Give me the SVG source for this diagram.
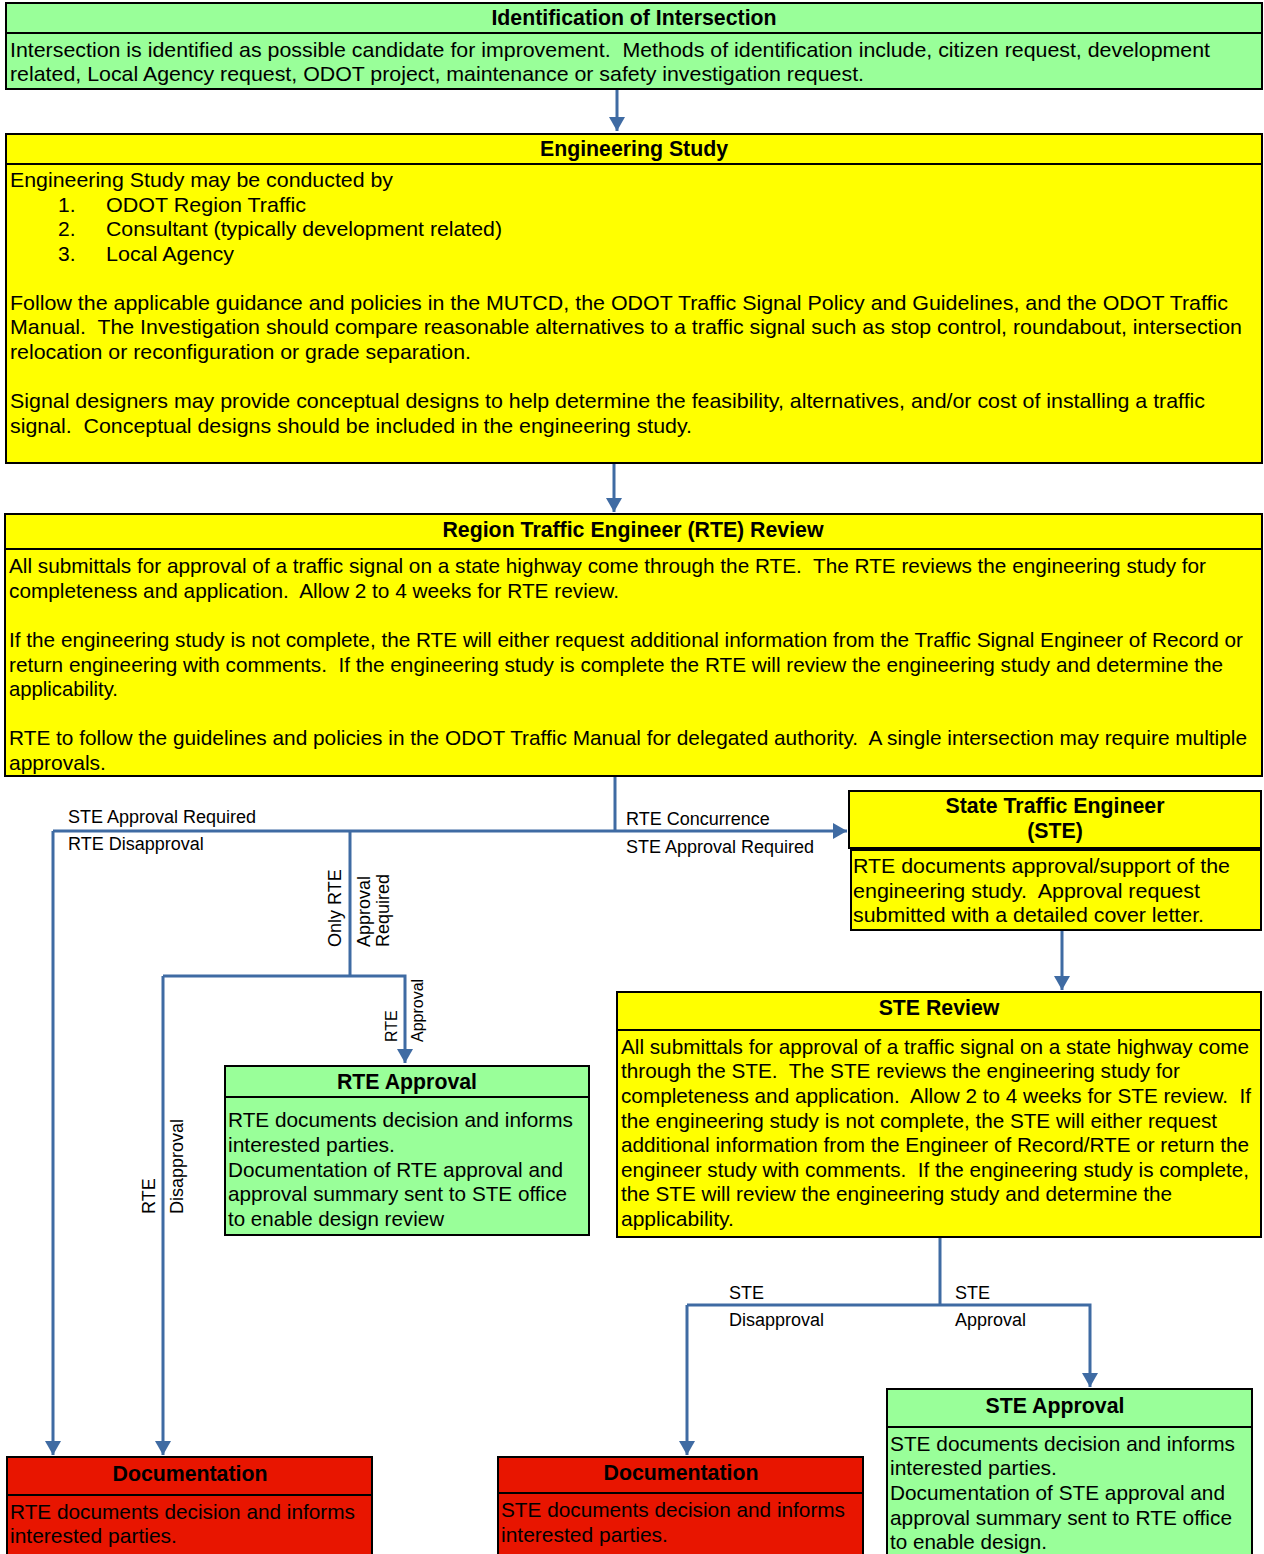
<svg xmlns="http://www.w3.org/2000/svg" width="1264" height="1554" viewBox="0 0 1264 1554">
<defs>
<style>
.box{stroke:#000;stroke-width:2}
.g{fill:#99FF99}.y{fill:#FFFF00}.r{fill:#E81500}
.div{stroke:#000;stroke-width:2}
text{font-family:"Liberation Sans",Arial,sans-serif;fill:#000;white-space:pre}
.t{font-size:21px}
.h{font-size:21.3px;font-weight:bold;text-anchor:middle}
.l{font-size:18px}
.s{font-size:16px}
.c{fill:none;stroke:#3F6BA3;stroke-width:3}
</style>
<marker id="ah" markerUnits="userSpaceOnUse" markerWidth="16" markerHeight="16" viewBox="0 0 14 16" refX="14" refY="8" orient="auto">
<path d="M0,0 L14,8 L0,16 z" fill="#3F6BA3"/>
</marker>
</defs>
<rect width="1264" height="1554" fill="#fff"/>

<g id="connectors">
<path class="c" d="M617,89 V131" marker-end="url(#ah)"/>
<path class="c" d="M614,463 V512" marker-end="url(#ah)"/>
<path class="c" d="M615,776 V831"/>
<path class="c" d="M53,831 H847" marker-end="url(#ah)"/>
<path class="c" d="M53,831 V1455" marker-end="url(#ah)"/>
<path class="c" d="M350,831 V976"/>
<path class="c" d="M163,976 H405 V1063" marker-end="url(#ah)"/>
<path class="c" d="M163,976 V1455" marker-end="url(#ah)"/>
<path class="c" d="M1062,930 V990" marker-end="url(#ah)"/>
<path class="c" d="M940,1237 V1305"/>
<path class="c" d="M687,1305 H1090 V1387" marker-end="url(#ah)"/>
<path class="c" d="M687,1305 V1455" marker-end="url(#ah)"/>
<text class="l" x="68" y="823">STE Approval Required</text>
<text class="l" x="68" y="850">RTE Disapproval</text>
<text class="l" x="626" y="825">RTE Concurrence</text>
<text class="l" x="626" y="853">STE Approval Required</text>
<text class="l" x="341" y="947" transform="rotate(-90 341 947)">Only RTE</text>
<text class="l" x="370" y="947" transform="rotate(-90 370 947)">Approval</text>
<text class="l" x="389" y="947" transform="rotate(-90 389 947)">Required</text>
<text class="s" x="397" y="1042" transform="rotate(-90 397 1042)">RTE</text>
<text class="s" x="423" y="1042" transform="rotate(-90 423 1042)">Approval</text>
<text class="l" x="155" y="1214" transform="rotate(-90 155 1214)">RTE</text>
<text class="l" x="183" y="1214" transform="rotate(-90 183 1214)">Disapproval</text>
<text class="l" x="729" y="1299">STE</text>
<text class="l" x="729" y="1326">Disapproval</text>
<text class="l" x="955" y="1299">STE</text>
<text class="l" x="955" y="1326">Approval</text>
</g>

<g id="identification">
<rect class="box g" x="6" y="3" width="1256" height="86"/>
<line class="div" x1="6" y1="33" x2="1262" y2="33"/>
<text class="h" x="634" y="25">Identification of Intersection</text>
<text class="t" x="10" y="57" textLength="1200" lengthAdjust="spacingAndGlyphs">Intersection is identified as possible candidate for improvement.  Methods of identification include, citizen request, development</text>
<text class="t" x="10" y="81" textLength="854" lengthAdjust="spacingAndGlyphs">related, Local Agency request, ODOT project, maintenance or safety investigation request.</text>
</g>

<g id="engineering-study">
<rect class="box y" x="6" y="134" width="1256" height="329"/>
<line class="div" x1="6" y1="164" x2="1262" y2="164"/>
<text class="h" x="634" y="156">Engineering Study</text>
<text class="t" x="10" y="187" textLength="383" lengthAdjust="spacingAndGlyphs">Engineering Study may be conducted by</text>
<text class="t" x="58" y="212">1.</text><text class="t" x="106" y="212" textLength="200" lengthAdjust="spacingAndGlyphs">ODOT Region Traffic</text>
<text class="t" x="58" y="236">2.</text><text class="t" x="106" y="236" textLength="396" lengthAdjust="spacingAndGlyphs">Consultant (typically development related)</text>
<text class="t" x="58" y="261">3.</text><text class="t" x="106" y="261" textLength="128" lengthAdjust="spacingAndGlyphs">Local Agency</text>
<text class="t" x="10" y="310" textLength="1218" lengthAdjust="spacingAndGlyphs">Follow the applicable guidance and policies in the MUTCD, the ODOT Traffic Signal Policy and Guidelines, and the ODOT Traffic</text>
<text class="t" x="10" y="334" textLength="1232" lengthAdjust="spacingAndGlyphs">Manual.  The Investigation should compare reasonable alternatives to a traffic signal such as stop control, roundabout, intersection</text>
<text class="t" x="10" y="359" textLength="461" lengthAdjust="spacingAndGlyphs">relocation or reconfiguration or grade separation.</text>
<text class="t" x="10" y="408" textLength="1195" lengthAdjust="spacingAndGlyphs">Signal designers may provide conceptual designs to help determine the feasibility, alternatives, and/or cost of installing a traffic</text>
<text class="t" x="10" y="433" textLength="682" lengthAdjust="spacingAndGlyphs">signal.  Conceptual designs should be included in the engineering study.</text>
</g>

<g id="rte-review">
<rect class="box y" x="5" y="514" width="1257" height="262"/>
<line class="div" x1="5" y1="549" x2="1262" y2="549"/>
<text class="h" x="633" y="537">Region Traffic Engineer (RTE) Review</text>
<text class="t" x="9" y="573" textLength="1197" lengthAdjust="spacingAndGlyphs">All submittals for approval of a traffic signal on a state highway come through the RTE.  The RTE reviews the engineering study for</text>
<text class="t" x="9" y="598" textLength="610" lengthAdjust="spacingAndGlyphs">completeness and application.  Allow 2 to 4 weeks for RTE review.</text>
<text class="t" x="9" y="647" textLength="1234" lengthAdjust="spacingAndGlyphs">If the engineering study is not complete, the RTE will either request additional information from the Traffic Signal Engineer of Record or</text>
<text class="t" x="9" y="672" textLength="1214" lengthAdjust="spacingAndGlyphs">return engineering with comments.  If the engineering study is complete the RTE will review the engineering study and determine the</text>
<text class="t" x="9" y="696" textLength="109" lengthAdjust="spacingAndGlyphs">applicability.</text>
<text class="t" x="9" y="745" textLength="1238" lengthAdjust="spacingAndGlyphs">RTE to follow the guidelines and policies in the ODOT Traffic Manual for delegated authority.  A single intersection may require multiple</text>
<text class="t" x="9" y="770">approvals.</text>
</g>

<g id="ste">
<rect class="box y" x="849" y="791" width="412" height="57"/>
<text class="h" x="1055" y="813">State Traffic Engineer</text>
<text class="h" x="1055" y="838">(STE)</text>
<rect class="box y" x="851" y="850" width="410" height="80"/>
<text class="t" x="853" y="873" textLength="377" lengthAdjust="spacingAndGlyphs">RTE documents approval/support of the</text>
<text class="t" x="853" y="898" textLength="347" lengthAdjust="spacingAndGlyphs">engineering study.  Approval request</text>
<text class="t" x="853" y="922" textLength="351" lengthAdjust="spacingAndGlyphs">submitted with a detailed cover letter.</text>
</g>

<g id="ste-review">
<rect class="box y" x="617" y="992" width="644" height="245"/>
<line class="div" x1="617" y1="1030" x2="1261" y2="1030"/>
<text class="h" x="939" y="1015">STE Review</text>
<text class="t" x="621" y="1054" textLength="628" lengthAdjust="spacingAndGlyphs">All submittals for approval of a traffic signal on a state highway come</text>
<text class="t" x="621" y="1078" textLength="559" lengthAdjust="spacingAndGlyphs">through the STE.  The STE reviews the engineering study for</text>
<text class="t" x="621" y="1103" textLength="630" lengthAdjust="spacingAndGlyphs">completeness and application.  Allow 2 to 4 weeks for STE review.  If</text>
<text class="t" x="621" y="1128" textLength="596" lengthAdjust="spacingAndGlyphs">the engineering study is not complete, the STE will either request</text>
<text class="t" x="621" y="1152" textLength="628" lengthAdjust="spacingAndGlyphs">additional information from the Engineer of Record/RTE or return the</text>
<text class="t" x="621" y="1177" textLength="628" lengthAdjust="spacingAndGlyphs">engineer study with comments.  If the engineering study is complete,</text>
<text class="t" x="621" y="1201" textLength="551" lengthAdjust="spacingAndGlyphs">the STE will review the engineering study and determine the</text>
<text class="t" x="621" y="1226">applicability.</text>
</g>

<g id="rte-approval">
<rect class="box g" x="225" y="1066" width="364" height="169"/>
<line class="div" x1="225" y1="1097" x2="589" y2="1097"/>
<text class="h" x="407" y="1089">RTE Approval</text>
<text class="t" x="228" y="1127" textLength="345" lengthAdjust="spacingAndGlyphs">RTE documents decision and informs</text>
<text class="t" x="228" y="1152">interested parties.</text>
<text class="t" x="228" y="1177" textLength="335" lengthAdjust="spacingAndGlyphs">Documentation of RTE approval and</text>
<text class="t" x="228" y="1201" textLength="339" lengthAdjust="spacingAndGlyphs">approval summary sent to STE office</text>
<text class="t" x="228" y="1226" textLength="216" lengthAdjust="spacingAndGlyphs">to enable design review</text>
</g>

<g id="ste-approval">
<rect class="box g" x="887" y="1389" width="365" height="175"/>
<line class="div" x1="887" y1="1427" x2="1252" y2="1427"/>
<text class="h" x="1055" y="1413">STE Approval</text>
<text class="t" x="890" y="1451" textLength="345" lengthAdjust="spacingAndGlyphs">STE documents decision and informs</text>
<text class="t" x="890" y="1475">interested parties.</text>
<text class="t" x="890" y="1500" textLength="335" lengthAdjust="spacingAndGlyphs">Documentation of STE approval and</text>
<text class="t" x="890" y="1525" textLength="342" lengthAdjust="spacingAndGlyphs">approval summary sent to RTE office</text>
<text class="t" x="890" y="1549" textLength="157" lengthAdjust="spacingAndGlyphs">to enable design.</text>
</g>

<g id="documentation-rte">
<rect class="box r" x="7" y="1457" width="365" height="110"/>
<line class="div" x1="7" y1="1495" x2="372" y2="1495"/>
<text class="h" x="190" y="1481">Documentation</text>
<text class="t" x="10" y="1519" textLength="345" lengthAdjust="spacingAndGlyphs">RTE documents decision and informs</text>
<text class="t" x="10" y="1543">interested parties.</text>
</g>

<g id="documentation-ste">
<rect class="box r" x="498" y="1457" width="365" height="110"/>
<line class="div" x1="498" y1="1493" x2="863" y2="1493"/>
<text class="h" x="681" y="1480">Documentation</text>
<text class="t" x="501" y="1517" textLength="344" lengthAdjust="spacingAndGlyphs">STE documents decision and informs</text>
<text class="t" x="501" y="1542">interested parties.</text>
</g>
</svg>
